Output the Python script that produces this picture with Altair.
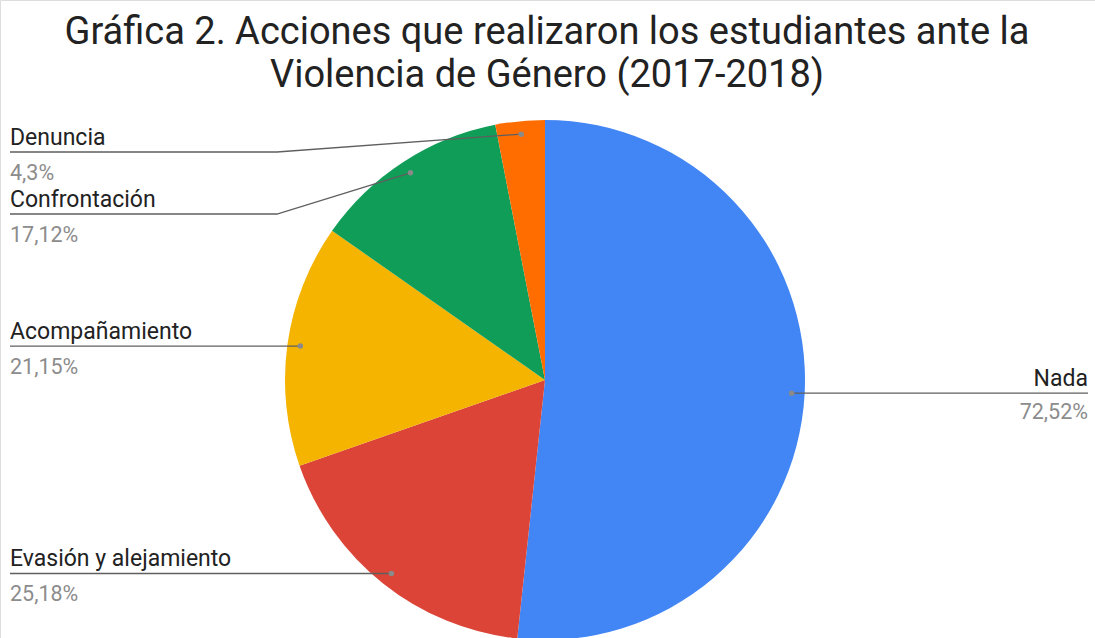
import math
import altair as alt
import pandas as pd

# ---- data ----
title_lines = ["Gráfica 2. Acciones que realizaron los estudiantes ante la",
               "Violencia de Género (2017-2018)"]
categories = ["Nada", "Evasión y alejamiento", "Acompañamiento", "Confrontación", "Denuncia"]
values = [72.52, 25.18, 21.15, 17.12, 4.3]
colors = ["#4285F4", "#DB4437", "#F4B400", "#0F9D58", "#FF6D00"]

# ---- layout constants ----
W, H = 1095, 638
CX, CY, R = 545, 380, 260
DOT_R = 0.95 * R
LEFT_X, RIGHT_X, ELBOW_X = 10, 1088, 277
MIN_GAP, MIN_TOP = 62, 152
TITLE_X, TITLE_Y0, TITLE_LH = 547, 44, 43

total = sum(values)
rows = []
cum = 0.0
for i, (c, v) in enumerate(zip(categories, values)):
    mid = (cum + v / 2) / total * 2 * math.pi
    cum += v
    dx = CX + DOT_R * math.sin(mid)
    dy = CY - DOT_R * math.cos(mid)
    side = "right" if math.sin(mid) > 0 else "left"
    rows.append(dict(cat=c, value=v, idx=i, dotx=dx, doty=dy, side=side,
                     pct=(f"{v:g}".replace(".", ",") + "%")))

# label y placement (left side, top to bottom, keep min gap)
left = sorted([r for r in rows if r["side"] == "left"], key=lambda r: r["doty"])
prev = None
for r in left:
    y = max(r["doty"], MIN_TOP if prev is None else prev + MIN_GAP)
    r["laby"] = y
    prev = y
for r in rows:
    if r["side"] == "right":
        r["laby"] = r["doty"]
    r["labx"] = LEFT_X if r["side"] == "left" else RIGHT_X

df = pd.DataFrame(rows)

# leader line points
lines = []
for r in rows:
    lines.append(dict(cat=r["cat"], k=0, x=r["dotx"], y=r["doty"]))
    if abs(r["laby"] - r["doty"]) > 0.5:
        lines.append(dict(cat=r["cat"], k=1, x=ELBOW_X, y=r["laby"]))
    lines.append(dict(cat=r["cat"], k=2, x=r["labx"], y=r["laby"]))
ldf = pd.DataFrame(lines)

tdf = pd.DataFrame({"t": title_lines,
                    "x": [TITLE_X] * len(title_lines),
                    "y": [TITLE_Y0 + i * TITLE_LH for i in range(len(title_lines))]})

def X(f):
    return alt.X(f, scale=None, axis=None)

def Y(f):
    return alt.Y(f, scale=None, axis=None)

base = alt.Chart(df)

pie = base.mark_arc(radius=R).encode(
    theta=alt.Theta("value:Q", stack=True),
    order=alt.Order("idx:Q"),
    color=alt.Color("cat:N", scale=alt.Scale(domain=categories, range=colors), legend=None),
    x=alt.value(CX),
    y=alt.value(CY),
)

leader = alt.Chart(ldf).mark_line(color="#5f5f5f", strokeWidth=1.3).encode(
    x=X("x:Q"), y=Y("y:Q"), detail="cat:N", order="k:Q",
)

dots = base.mark_circle(size=30, color="#8a8a8a", opacity=1).encode(
    x=X("dotx:Q"), y=Y("doty:Q"),
)

FONT = "Roboto"
NAME_SIZE, PCT_SIZE = 23, 21.5
name_l = base.transform_filter(alt.datum.side == "left").mark_text(
    align="left", baseline="alphabetic", font=FONT, fontSize=NAME_SIZE, color="#222222", dy=-7
).encode(x=X("labx:Q"), y=Y("laby:Q"), text="cat:N")
pct_l = base.transform_filter(alt.datum.side == "left").mark_text(
    align="left", baseline="alphabetic", font=FONT, fontSize=PCT_SIZE, color="#8c8c8c", dy=28
).encode(x=X("labx:Q"), y=Y("laby:Q"), text="pct:N")
name_r = base.transform_filter(alt.datum.side == "right").mark_text(
    align="right", baseline="alphabetic", font=FONT, fontSize=NAME_SIZE, color="#222222", dy=-7
).encode(x=X("labx:Q"), y=Y("laby:Q"), text="cat:N")
pct_r = base.transform_filter(alt.datum.side == "right").mark_text(
    align="right", baseline="alphabetic", font=FONT, fontSize=PCT_SIZE, color="#8c8c8c", dy=26
).encode(x=X("labx:Q"), y=Y("laby:Q"), text="pct:N")

title = alt.Chart(tdf).mark_text(
    align="center", baseline="alphabetic", font=FONT, fontSize=38, color="#222222"
).encode(x=X("x:Q"), y=Y("y:Q"), text="t:N")

chart = alt.layer(pie, leader, dots, name_l, pct_l, name_r, pct_r, title).properties(
    width=W,
    height=H,
    padding=0,
    autosize=alt.AutoSizeParams(type="none"),
).configure_view(
    stroke=None, strokeWidth=0
).configure(background="white")

chart.save("out.html", embed_options={"renderer": "svg", "actions": False})
